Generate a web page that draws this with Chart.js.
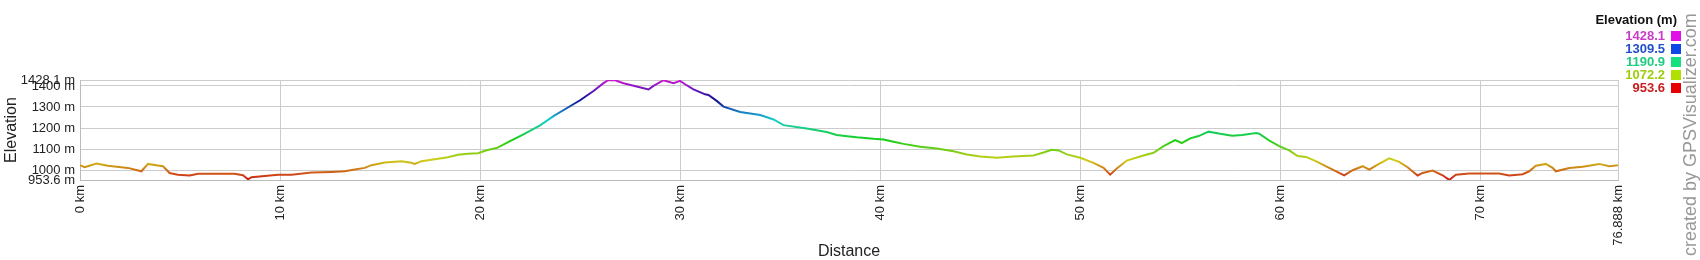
<!DOCTYPE html>
<html><head><meta charset="utf-8">
<script src="https://cdn.jsdelivr.net/npm/chart.js@4.4.1/dist/chart.umd.min.js"></script>
<style>html,body{margin:0;padding:0;background:#fff;overflow:hidden}#wrap{width:1700px;height:260px;position:relative}</style>
</head><body><div id="wrap"><canvas id="c" width="1700" height="260"></canvas></div>
<script>
const distanceKm = [0,0.23,0.82,1.4,2.07,2.4,3.07,3.4,3.9,4.15,4.48,4.9,5.48,5.9,6.57,7.73,8.15,8.32,8.4,8.57,9.23,9.9,10.57,11.57,12.57,13.23,13.73,14.23,14.57,15.23,16.07,16.57,16.73,17.07,17.9,18.4,18.9,19.4,19.9,20.33,20.83,21.5,22.17,23.0,23.67,24.33,25.0,25.67,26.17,26.42,26.75,27.17,27.83,28.42,28.67,29.17,29.67,30.0,30.25,30.67,31.25,31.42,31.83,32.17,33.0,34.0,34.67,35.17,36.33,37.33,37.83,38.47,38.83,39.67,40.17,40.67,41.17,42.0,42.83,43.67,44.33,45.0,45.83,46.67,47.67,48.17,48.58,48.92,49.33,50.0,50.67,51.17,51.5,51.83,52.33,53.17,53.67,54.17,54.75,55.08,55.5,55.92,56.42,57.0,57.6,58.1,58.8,58.95,59.45,59.95,60.45,60.87,61.28,61.78,62.45,63.2,63.62,64.12,64.45,64.87,65.45,65.95,66.37,66.87,67.12,67.62,68.12,68.45,68.78,69.45,70.45,70.95,71.45,72.12,72.45,72.78,73.28,73.62,73.78,74.45,75.12,75.95,76.45,76.888];
const elevationM = [1024,1014,1032,1021,1014,1011,995,1030,1022,1019,987,979,975,983,983,983,976,963,957,967,973,979,979,989,992,995,1003,1011,1024,1037,1043,1035,1030,1043,1054,1062,1073,1078,1081,1095,1105,1138,1170,1213,1257,1294,1332,1376,1413,1428,1427,1413,1397,1383,1400,1427,1413,1424,1408,1384,1360,1357,1329,1302,1276,1262,1241,1214,1198,1181,1167,1160,1156,1149,1146,1135,1125,1111,1103,1090,1075,1065,1059,1065,1070,1084,1097,1094,1075,1059,1035,1011,979,1008,1046,1070,1083,1114,1143,1129,1151,1162,1183,1173,1164,1167,1176,1173,1141,1114,1094,1067,1063,1043,1011,976,1000,1019,1003,1027,1056,1040,1014,975,987,998,976,954,979,984,984,984,975,981,995,1021,1030,1011,995,1010,1016,1030,1019,1024];
const xTickValues = [0,10,20,30,40,50,60,70,76.888];
const yTickValues = [953.6,1000,1100,1200,1300,1400,1428.1];
const legendValues = [1428.1,1309.5,1190.9,1072.2,953.6];
const legendTextColors = ['#c83cc8','#2050c8','#20cc80','#a0cc10','#c82020'];
const legendBoxColors = ['#e010e8','#1048e8','#18e080','#b0e000','#e80000'];
const yMin = 953.6, yMax = 1428.1;

const FONT = '"Liberation Sans", Arial, sans-serif';

function lineGradient(context){
  const chart = context.chart;
  const {chartArea, scales} = chart;
  if(!chartArea) return '#c00';
  const y0 = scales.y.getPixelForValue(yMin), y1 = scales.y.getPixelForValue(yMax);
  const g = chart.ctx.createLinearGradient(0, y0, 0, y1);
  for(let i=0;i<=30;i++){
    const h = i/30*300;
    const l = 45 - 12*Math.exp(-Math.pow((h-240)/30,2));
    g.addColorStop(i/30, `hsl(${h},80%,${l}%)`);
  }
  return g;
}

const extras = {
  id:'extras',
  afterDraw(chart){
    const ctx = chart.ctx;
    ctx.save();
    ctx.fillStyle = '#111';
    ctx.font = `bold 13px ${FONT}`;
    ctx.textAlign = 'right';
    ctx.textBaseline = 'middle';
    ctx.fillText('Elevation (m)', 1677, 20);
    const rows = [36,49,62,75,88];
    ctx.font = `bold 13px ${FONT}`;
    legendValues.forEach((v,i)=>{
      ctx.fillStyle = legendTextColors[i];
      ctx.fillText(v.toFixed(1), 1665, rows[i]);
      ctx.fillStyle = legendBoxColors[i];
      ctx.fillRect(1671, rows[i]-5, 10, 10);
    });
    ctx.translate(1691, 256);
    ctx.rotate(-Math.PI/2);
    ctx.textAlign = 'left';
    ctx.fillStyle = '#999';
    ctx.font = `18px ${FONT}`;
    ctx.fillText('created by GPSVisualizer.com', 0, 0);
    ctx.restore();
  }
};

new Chart(document.getElementById('c'), {
  type:'line',
  data:{ datasets:[{
    data: distanceKm.map((d,i)=>({x:d, y:elevationM[i]})),
    borderColor: lineGradient,
    borderWidth: 2,
    pointRadius: 0,
    tension: 0,
    fill: false
  }]},
  options:{
    responsive:false,
    animation:false,
    devicePixelRatio:1,
    layout:{padding:{top:80,right:82,left:0,bottom:0}},
    plugins:{legend:{display:false}, tooltip:{enabled:false}},
    scales:{
      x:{
        type:'linear', min:0, max:76.888,
        afterBuildTicks: s => { s.ticks = xTickValues.map(v=>({value:v})); },
        afterFit: s => { s.height = 80; },
        grid:{color:'#cccccc', drawTicks:false},
        border:{color:'#bbbbbb'},
        ticks:{autoSkip:false, maxRotation:90, minRotation:90, padding:5, color:'#222',
          font:{family:FONT, size:13}, callback: v => v + ' km'},
        title:{display:true, text:'Distance', color:'#222', font:{family:FONT, size:16, lineHeight:1}, padding:{top:0,bottom:0}}
      },
      y:{
        type:'linear', min:yMin, max:yMax,
        afterBuildTicks: s => { s.ticks = yTickValues.map(v=>({value:v})); },
        afterFit: s => { s.width = 80; },
        grid:{color:'#cccccc', drawTicks:false},
        border:{color:'#bbbbbb'},
        ticks:{autoSkip:false, padding:5, color:'#222', font:{family:FONT, size:13}, callback: v => v + ' m'},
        title:{display:true, text:'Elevation', color:'#222', font:{family:FONT, size:16, lineHeight:1}, padding:{top:4,bottom:0}}
      }
    }
  },
  plugins:[extras]
});
</script></body></html>
